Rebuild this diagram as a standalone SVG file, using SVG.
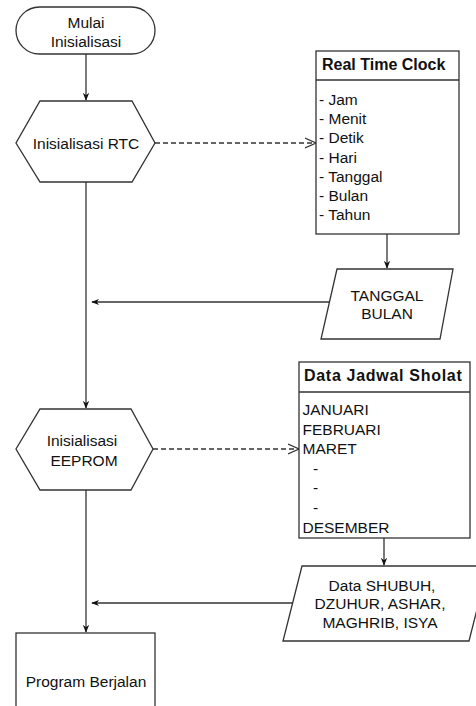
<svg xmlns="http://www.w3.org/2000/svg" width="476" height="706" viewBox="0 0 476 706">
<style>
.s{fill:#fff;stroke:#333;stroke-width:1.3}
.t{font-family:"Liberation Sans",Arial,sans-serif;font-size:15.5px;fill:#111}
.c{text-anchor:middle}
.b{font-weight:bold;font-size:16px}
.e{fill:none;stroke:#333;stroke-width:1.3}
.d{stroke-dasharray:5,3}
</style>
<defs>
<marker id="a" viewBox="0 0 10 10" refX="9" refY="5" markerWidth="8" markerHeight="8" orient="auto" markerUnits="userSpaceOnUse">
<path d="M0,1 L10,5 L0,9 L3,5 Z" fill="#111"/>
</marker>
<marker id="o" viewBox="0 0 12 12" refX="11" refY="6" markerWidth="12" markerHeight="12" orient="auto" markerUnits="userSpaceOnUse">
<path d="M0,1 L11,6 L0,11" fill="none" stroke="#333" stroke-width="1.2"/>
</marker>
</defs>
<g id="connectors">
<line class="e" x1="86" y1="54" x2="86" y2="100" marker-end="url(#a)"/>
<line class="e" x1="86" y1="182" x2="86" y2="408" marker-end="url(#a)"/>
<line class="e" x1="86" y1="490" x2="86" y2="632" marker-end="url(#a)"/>
<line class="e d" x1="155" y1="143" x2="316" y2="143" marker-end="url(#o)"/>
<line class="e" x1="387" y1="234" x2="387" y2="268" marker-end="url(#a)"/>
<line class="e" x1="329" y1="302" x2="92" y2="302" marker-end="url(#a)"/>
<line class="e d" x1="153" y1="449" x2="299" y2="449" marker-end="url(#o)"/>
<line class="e" x1="384" y1="538" x2="384" y2="565" marker-end="url(#a)"/>
<line class="e" x1="293" y1="603" x2="92" y2="603" marker-end="url(#a)"/>
</g>
<g id="start">
<rect class="s" x="16" y="7" width="139" height="47" rx="23.5"/>
<text class="t c" x="86" y="28">Mulai</text>
<text class="t c" x="86" y="47">Inisialisasi</text>
</g>
<g id="initRTC">
<polygon class="s" points="40,101 132,101 155,143 132,182 40,182 16,143"/>
<text class="t c" x="86" y="149">Inisialisasi RTC</text>
</g>
<g id="rtc">
<rect class="s" x="316" y="51" width="143" height="183"/>
<line class="e" x1="316" y1="80" x2="459" y2="80"/>
<text class="t b" x="322" y="70">Real Time Clock</text>
<text class="t" x="319" y="105">- Jam</text>
<text class="t" x="319" y="124">- Menit</text>
<text class="t" x="319" y="143">- Detik</text>
<text class="t" x="319" y="163">- Hari</text>
<text class="t" x="319" y="182">- Tanggal</text>
<text class="t" x="319" y="201">- Bulan</text>
<text class="t" x="319" y="220">- Tahun</text>
</g>
<g id="tanggal">
<polygon class="s" points="337,269 453,269 440,339 321,339"/>
<text class="t c" x="387" y="300.5">TANGGAL</text>
<text class="t c" x="387" y="319">BULAN</text>
</g>
<g id="initEEPROM">
<polygon class="s" points="40,409 131,409 153,449 131,490 40,490 16,449"/>
<text class="t c" x="82" y="446">Inisialisasi</text>
<text class="t c" x="84" y="465.5">EEPROM</text>
</g>
<g id="jadwal">
<rect class="s" x="299" y="362" width="171" height="176"/>
<line class="e" x1="299" y1="392" x2="470" y2="392"/>
<text class="t b" x="304" y="380.5" style="letter-spacing:0.7px">Data Jadwal Sholat</text>
<text class="t" x="302.5" y="415">JANUARI</text>
<text class="t" x="302.5" y="434.5">FEBRUARI</text>
<text class="t" x="302.5" y="454">MARET</text>
<text class="t" x="313" y="473.5">-</text>
<text class="t" x="313" y="493">-</text>
<text class="t" x="313" y="512.5">-</text>
<text class="t" x="302.5" y="532.5">DESEMBER</text>
</g>
<g id="dataSholat">
<polygon class="s" points="302,566 488,566 469,641 283,641"/>
<text class="t c" x="382" y="590.5">Data SHUBUH,</text>
<text class="t c" x="380" y="609">DZUHUR, ASHAR,</text>
<text class="t c" x="380" y="628">MAGHRIB, ISYA</text>
</g>
<g id="program">
<rect class="s" x="16" y="633" width="139" height="90"/>
<text class="t c" x="86" y="686.5">Program Berjalan</text>
</g>
</svg>
